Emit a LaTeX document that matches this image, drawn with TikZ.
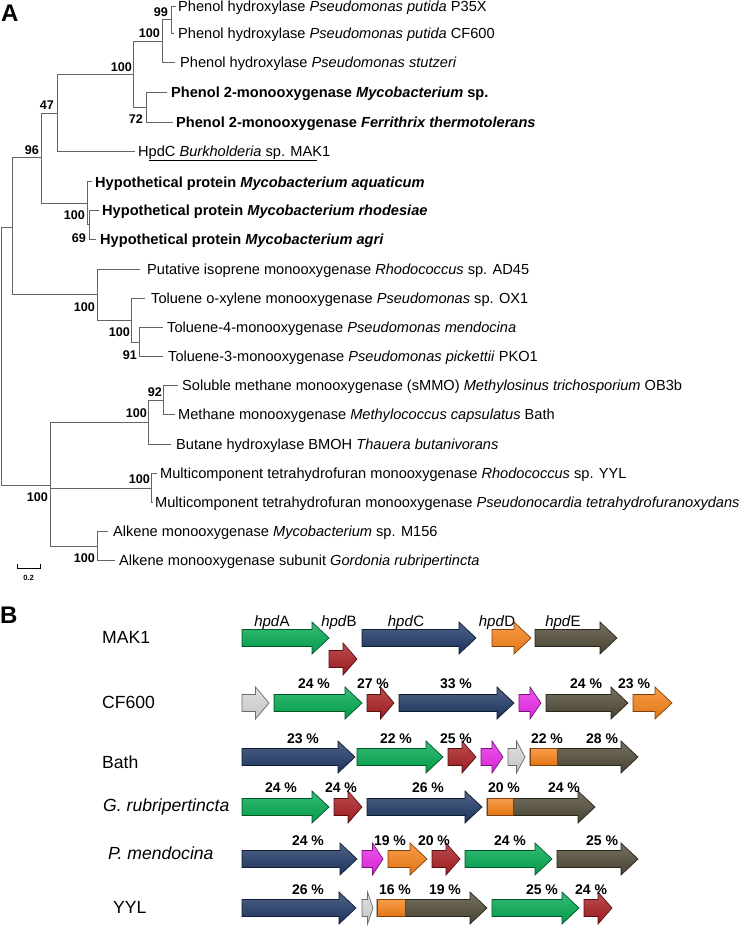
\documentclass[tikz,border=0pt]{standalone}
\usepackage{fontspec}
\setmainfont{Liberation Sans}
\usepackage{tikz}
\usetikzlibrary{calc}

\definecolor{treeGrey}{RGB}{100,100,100}
\definecolor{geneGreen}{RGB}{0,168,80}
\definecolor{geneBlue}{RGB}{30,55,100}
\definecolor{geneRed}{RGB}{168,28,32}
\definecolor{geneOrange}{RGB}{245,128,22}
\definecolor{geneOlive}{RGB}{78,72,52}
\definecolor{genePink}{RGB}{232,40,232}
\definecolor{geneGrey}{RGB}{214,214,214}

\tikzset{
  branch/.style={draw=treeGrey, line width=1pt},
  leaf/.style={anchor=base west, inner sep=0pt, font=\fontsize{14.6}{17}\selectfont},
  boot/.style={anchor=base east, inner sep=0pt, font=\fontsize{12.6}{14}\selectfont\bfseries},
  panel/.style={anchor=base west, inner sep=0pt, font=\fontsize{24}{26}\selectfont\bfseries},
  strain/.style={anchor=base west, inner sep=0pt, font=\fontsize{17.6}{20}\selectfont},
  pct/.style={anchor=base, inner sep=0pt, font=\fontsize{14}{16}\selectfont\bfseries},
  hpd/.style={anchor=base, inner sep=0pt, font=\fontsize{15}{17}\selectfont},
  gene/.style={draw=#1!50!black, line width=0.7pt, top color=#1!78!white, bottom color=#1!92!black},
}

% gene arrow: x start, x end, y centre, colour
\newcommand{\genearrow}[4]{%
  \pgfmathsetmacro{\headlen}{min(17,(#2-#1)/2)}
  \path[gene=#4] (#1,#3-8.5) -- ({#2-\headlen},#3-8.5) -- ({#2-\headlen},#3-16)
    -- (#2,#3) -- ({#2-\headlen},#3+16) -- ({#2-\headlen},#3+8.5) -- (#1,#3+8.5) -- cycle;
}

\begin{document}
\begin{tikzpicture}[x=1pt,y=-1pt]
\useasboundingbox (0,0) rectangle (750,928);

\node[panel] (lblA) at (1,22) {A};

%%Internal nodes of the tree
\coordinate (n99) at (171,20);
\coordinate (n100a) at (162,42);
\coordinate (n72) at (146,108);
\coordinate (n100b) at (133,75);
\coordinate (n47) at (57,114);
\coordinate (n69) at (89.5,224.5);
\coordinate (n100c) at (87,203);
\coordinate (n96) at (41,158);
\coordinate (n91) at (139,342);
\coordinate (n100d) at (131,320);
\coordinate (n100e) at (97,294);
\coordinate (nA) at (12.5,227);
\coordinate (n92) at (163,400);
\coordinate (n100f) at (148,422);
\coordinate (n100g) at (151,488);
\coordinate (n100h) at (97,546);
\coordinate (nB) at (50,485);
\coordinate (root) at (1,356);

%%Leaf tips
\coordinate (t1) at (176,7);
\coordinate (t2) at (174,34);
\coordinate (t3) at (175,63);
\coordinate (t4) at (167,93);
\coordinate (t5) at (173,123);
\coordinate (t6) at (135,152);
\coordinate (t7) at (92,182);
\coordinate (t8) at (99,210);
\coordinate (t9) at (96,239);
\coordinate (t10) at (140,269);
\coordinate (t11) at (145,298);
\coordinate (t12) at (163,327);
\coordinate (t13) at (163,356);
\coordinate (t14) at (178,385);
\coordinate (t15) at (175,414);
\coordinate (t16) at (171,444);
\coordinate (t17) at (157,473);
\coordinate (t18) at (153,502);
\coordinate (t19) at (108,531);
\coordinate (t20) at (115,560);

%%Leaf labels
\node[leaf] (l1) at (178,12) {Phenol hydroxylase \textit{Pseudomonas putida} P35X};
\node[leaf] (l2) at (178,39) {Phenol hydroxylase \textit{Pseudomonas putida} CF600};
\node[leaf] (l3) at (180,68) {Phenol hydroxylase \textit{Pseudomonas stutzeri}};
\node[leaf] (l4) at (171,98) {\bfseries Phenol 2-monooxygenase \textit{Mycobacterium} sp.};
\node[leaf] (l5) at (176,128) {\bfseries Phenol 2-monooxygenase \textit{Ferrithrix thermotolerans}};
\node[leaf] (l6) at (138,157) {HpdC \textit{Burkholderia} sp. MAK1};
\node[leaf] (l7) at (95,187) {\bfseries Hypothetical protein \textit{Mycobacterium aquaticum}};
\node[leaf] (l8) at (102,215) {\bfseries Hypothetical protein \textit{Mycobacterium rhodesiae}};
\node[leaf] (l9) at (100,244) {\bfseries Hypothetical protein \textit{Mycobacterium agri}};
\node[leaf] (l10) at (147,274) {Putative isoprene monooxygenase \textit{Rhodococcus} sp. AD45};
\node[leaf] (l11) at (151,303) {Toluene o-xylene monooxygenase \textit{Pseudomonas} sp. OX1};
\node[leaf] (l12) at (167,332) {Toluene-4-monooxygenase \textit{Pseudomonas mendocina}};
\node[leaf] (l13) at (168,361) {Toluene-3-monooxygenase \textit{Pseudomonas pickettii} PKO1};
\node[leaf] (l14) at (182,390) {Soluble methane monooxygenase (sMMO) \textit{Methylosinus trichosporium} OB3b};
\node[leaf] (l15) at (178,419) {Methane monooxygenase \textit{Methylococcus capsulatus} Bath};
\node[leaf] (l16) at (176,449) {Butane hydroxylase BMOH \textit{Thauera butanivorans}};
\node[leaf] (l17) at (160,478) {Multicomponent tetrahydrofuran monooxygenase \textit{Rhodococcus} sp. YYL};
\node[leaf] (l18) at (155,507) {Multicomponent tetrahydrofuran monooxygenase \textit{Pseudonocardia tetrahydrofuranoxydans}};
\node[leaf] (l19) at (113,536) {Alkene monooxygenase \textit{Mycobacterium} sp. M156};
\node[leaf] (l20) at (119,565) {Alkene monooxygenase subunit \textit{Gordonia rubripertincta}};
\draw[line width=0.9pt] (149,160) -- (317,160);

%%Branches
\draw[branch] (n99) |- (t1) (n99) |- (t2);
\draw[branch] (n100a) |- (n99) (n100a) |- (t3);
\draw[branch] (n72) |- (t4) (n72) |- (t5);
\draw[branch] (n100b) |- (n100a) (n100b) |- (n72);
\draw[branch] (n47) |- (n100b) (n47) |- (t6);
\draw[branch] (n69) |- (t8) (n69) |- (t9);
\draw[branch] (n100c) |- (t7) (n100c) |- (n69);
\draw[branch] (n96) |- (n47) (n96) |- (n100c);
\draw[branch] (n91) |- (t12) (n91) |- (t13);
\draw[branch] (n100d) |- (t11) (n100d) |- (n91);
\draw[branch] (n100e) |- (t10) (n100e) |- (n100d);
\draw[branch] (nA) |- (n96) (nA) |- (n100e);
\draw[branch] (n92) |- (t14) (n92) |- (t15);
\draw[branch] (n100f) |- (n92) (n100f) |- (t16);
\draw[branch] (n100g) |- (t17) (n100g) |- (t18);
\draw[branch] (n100h) |- (t19) (n100h) |- (t20);
\draw[branch] (nB) |- (n100f) (nB) |- (n100g) (nB) |- (n100h);
\draw[branch] (root) |- (nA) (root) |- (nB);

%%Bootstrap values
\node[boot] (b99) at (168,16.5) {99};
\node[boot] (b100a) at (160,37.5) {100};
\node[boot] (b100b) at (132,71.5) {100};
\node[boot] (b72) at (143,123.5) {72};
\node[boot] (b47) at (54,109.5) {47};
\node[boot] (b96) at (39,154.5) {96};
\node[boot] (b100c) at (85,219.5) {100};
\node[boot] (b69) at (86,242.5) {69};
\node[boot] (b100e) at (95,311.5) {100};
\node[boot] (b100d) at (130,336.5) {100};
\node[boot] (b91) at (137,359.5) {91};
\node[boot] (b92) at (162,396.5) {92};
\node[boot] (b100f) at (147,417.5) {100};
\node[boot] (b100g) at (150,483.5) {100};
\node[boot] (bB) at (48,501.5) {100};
\node[boot] (b100h) at (95,562.5) {100};

%%Scale bar
\draw[line width=0.8pt] (17,564) -- (17,568) -- (40,568) -- (40,564);
\node[anchor=base, inner sep=0pt, font=\fontsize{7.5}{8}\selectfont\bfseries] (sc) at (28.5,580) {0.2};

%%Panel B
\node[panel] (lblB) at (0,623) {B};
\node[strain] (sMAK) at (102,643.5) {MAK1};
\node[strain] (sCF) at (102,708.5) {CF600};
\node[strain] (sBath) at (102,768) {Bath};
\node[strain] (sGor) at (103,811) {\itshape G. rubripertincta};
\node[strain] (sPme) at (108,859) {\itshape P. mendocina};
\node[strain] (sYYL) at (113,913) {YYL};

%%MAK1
\node[hpd] (hA) at (272,626) {\textit{hpd}A};
\node[hpd] (hB) at (339,626) {\textit{hpd}B};
\node[hpd] (hC) at (406,626) {\textit{hpd}C};
\node[hpd] (hD) at (497,626) {\textit{hpd}D};
\node[hpd] (hE) at (563,626) {\textit{hpd}E};
\genearrow{242}{329}{638}{geneGreen}
\genearrow{329}{357}{659}{geneRed}
\genearrow{362}{476}{638}{geneBlue}
\genearrow{492}{531}{638}{geneOrange}
\genearrow{535}{617}{638}{geneOlive}

%%CF600
\genearrow{242}{269}{703}{geneGrey}
\genearrow{274}{362}{703}{geneGreen}
\genearrow{367}{394}{703}{geneRed}
\genearrow{399}{514}{703}{geneBlue}
\genearrow{519}{541}{703}{genePink}
\genearrow{546}{628}{703}{geneOlive}
\genearrow{633}{672}{703}{geneOrange}
\foreach \x/\t [count=\i] in {314/24,373/27,456/33,586/24,634/23}
  \node[pct] (pcCF\i) at (\x,688) {\t\ \%};

%%Bath
\genearrow{242}{355}{757}{geneBlue}
\genearrow{357}{443}{757}{geneGreen}
\genearrow{448}{476}{757}{geneRed}
\genearrow{481}{503}{757}{genePink}
\genearrow{508}{525}{757}{geneGrey}
\genearrow{530}{638}{757}{geneOlive}
\path[gene=geneOrange] (530,748.5) rectangle (557,765.5);
\foreach \x/\t [count=\i] in {303/23,396/22,456/25,547/22,602/28}
  \node[pct] (pcBa\i) at (\x,743) {\t\ \%};

%%G. rubripertincta
\genearrow{242}{329}{807}{geneGreen}
\genearrow{334}{362}{807}{geneRed}
\genearrow{367}{482}{807}{geneBlue}
\genearrow{487}{595}{807}{geneOlive}
\path[gene=geneOrange] (487,798.5) rectangle (513,815.5);
\foreach \x/\t [count=\i] in {281/24,341/24,428/26,504/20,564/24}
  \node[pct] (pcGr\i) at (\x,792) {\t\ \%};

%%P. mendocina
\genearrow{242}{357}{859}{geneBlue}
\genearrow{362}{383}{859}{genePink}
\genearrow{388}{427}{859}{geneOrange}
\genearrow{432}{460}{859}{geneRed}
\genearrow{465}{552}{859}{geneGreen}
\genearrow{557}{638}{859}{geneOlive}
\foreach \x/\t [count=\i] in {308/24,390/19,434/20,510/24,602/25}
  \node[pct] (pcPm\i) at (\x,845) {\t\ \%};

%%YYL
\genearrow{242}{356}{908}{geneBlue}
\genearrow{362}{373}{908}{geneGrey}
\genearrow{377}{487}{908}{geneOlive}
\path[gene=geneOrange] (377,899.5) rectangle (405,916.5);
\genearrow{492}{579}{908}{geneGreen}
\genearrow{584}{612}{908}{geneRed}
\foreach \x/\t [count=\i] in {308/26,395/16,445/19,542/25,591/24}
  \node[pct] (pcYY\i) at (\x,894) {\t\ \%};
\end{tikzpicture}
\end{document}
